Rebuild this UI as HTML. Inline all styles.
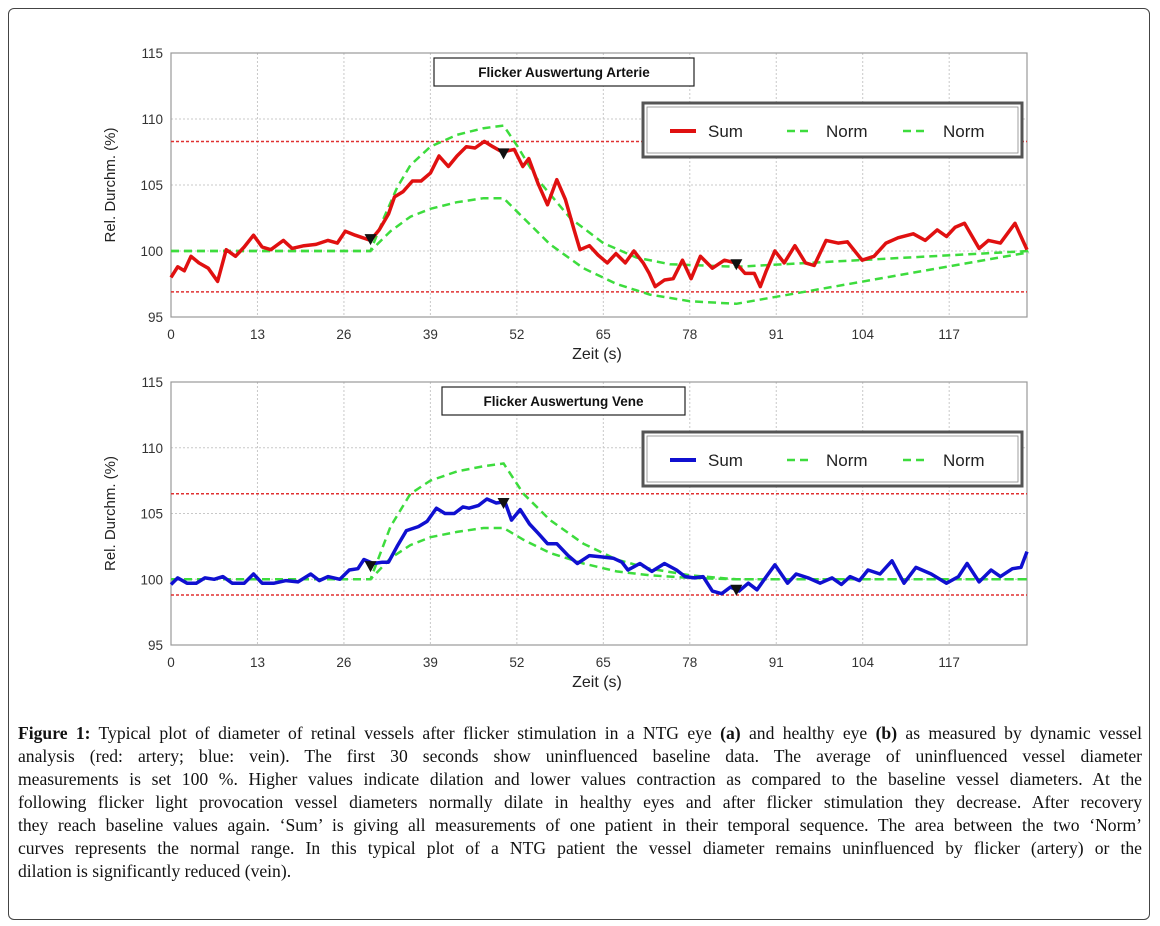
<!DOCTYPE html>
<html><head><meta charset="utf-8"><style>
html,body{margin:0;padding:0;background:#fff;}
#wrap{position:relative;width:1160px;height:926px;overflow:hidden;}
#frame{position:absolute;left:8px;top:8px;width:1142px;height:912px;border:1px solid #444;border-radius:6px;box-sizing:border-box;}
#caption{position:absolute;left:18px;top:722px;width:1124px;font-family:"Liberation Serif",serif;font-size:17.6px;line-height:23px;color:#111;}
#caption .ln{display:block;white-space:nowrap;text-align:justify;text-align-last:justify;}
#caption .ln.last{text-align-last:left;}
svg text{font-family:"Liberation Sans",sans-serif;}
</style></head><body>
<div id="wrap">
<div id="frame"></div>
<svg id="chart" width="1160" height="926" style="position:absolute;left:0;top:0"></svg>
<div id="caption">
<span class="ln"><b>Figure 1:</b> Typical plot of diameter of retinal vessels after flicker stimulation in a NTG eye <b>(a)</b> and healthy eye <b>(b)</b> as measured by dynamic vessel</span>
<span class="ln">analysis (red: artery; blue: vein). The first 30 seconds show uninfluenced baseline data. The average of uninfluenced vessel diameter</span>
<span class="ln">measurements is set 100 %. Higher values indicate dilation and lower values contraction as compared to the baseline vessel diameters. At the</span>
<span class="ln">following flicker light provocation vessel diameters normally dilate in healthy eyes and after flicker stimulation they decrease. After recovery</span>
<span class="ln">they reach baseline values again. ‘Sum’ is giving all measurements of one patient in their temporal sequence. The area between the two ‘Norm’</span>
<span class="ln">curves represents the normal range. In this typical plot of a NTG patient the vessel diameter remains uninfluenced by flicker (artery) or the</span>
<span class="ln last">dilation is significantly reduced (vein).</span>
</div>
</div>
<script>
const xTicks=[0,13,26,39,52,65,78,91,104,117];
const yTicks=[95,100,105,110,115];
const artT=[0,1,2,3,4.2,5.6,7,8.3,9.7,11,12.4,13.7,15,16.9,18.2,20,21.8,23.6,25,26.2,27.7,30,31.3,32.7,33.6,34.9,36.3,37.6,39,40.3,41.7,43,44.4,45.7,47.1,48.4,49.8,51.6,52.9,53.8,55.2,56.6,58,59.3,60.6,61.5,62.9,64.2,65.6,66.9,68.3,69.6,71,71.9,72.8,74.2,75.5,76.9,78.2,79.6,81.4,83.2,84.9,86.3,87.7,88.6,89.5,90.8,92.2,93.8,95.4,96.7,98.5,100.3,101.7,103.9,105.7,107.5,109.3,111.6,113.4,115.2,116.6,117.9,119.3,121.5,122.9,124.7,126.9,128.7];
const artSum=[98.0,98.8,98.5,99.6,99.1,98.7,97.7,100.1,99.6,100.3,101.2,100.3,100.1,100.8,100.2,100.4,100.5,100.8,100.6,101.5,101.2,100.8,101.6,102.8,104.1,104.5,105.3,105.3,105.9,107.2,106.4,107.2,107.9,107.8,108.3,107.9,107.5,107.7,106.4,107.0,105.1,103.5,105.4,103.9,101.6,100.1,100.4,99.7,99.1,99.8,99.1,100.0,99.1,98.3,97.3,97.8,97.9,99.3,97.9,99.6,98.7,99.3,99.1,98.3,98.3,97.3,98.5,100.0,99.1,100.4,99.1,98.9,100.8,100.6,100.7,99.3,99.6,100.6,101.0,101.3,100.8,101.6,101.1,101.8,102.1,100.2,100.8,100.6,102.1,100.1];
const artNormT=[0,30,32,34,36,39,43,47,50,52,55,60,65,70,75,85,129];
const artNormHi=[100,100,102.5,104.8,106.5,107.9,108.8,109.3,109.5,108,105.5,102.5,100.6,99.5,99,98.8,100];
const artNormLoT=[0,30,33,36,39,43,47,50,53,57,62,67,72,78,85,129];
const artNormLo=[100,100,101.5,102.6,103.2,103.7,104,104,102.5,100.5,98.7,97.5,96.7,96.2,96.0,99.9];
const artLimits=[108.3,96.9];
const artMarkT=[30,50,85];
const artMarkV=[100.9,107.4,99.0];

const venT=[0,1,2.4,3.8,5.1,6.5,7.8,9.2,11,12.4,13.7,15.5,17.3,19.1,21,22.3,23.6,25.4,26.8,28.1,29,30.4,31.8,32.7,34,35.4,37.2,38.5,39.9,41.2,42.6,43.9,44.8,46.2,47.5,48.9,50.2,51.2,52.5,53.9,55.2,56.6,58,59.7,61.1,62.9,64.7,66.5,67.8,68.7,70.5,72.3,74.2,76,77.3,78.7,80,81.4,82.8,84.1,85.4,86.8,88.1,89.5,90.8,92.7,94,95.8,97.6,99.4,100.8,102.1,103.5,104.8,106.6,108.4,110.2,112,114.3,116.6,118.4,119.7,121.5,123.3,124.7,126.5,127.8,128.7];
const venSum=[99.6,100.1,99.7,99.7,100.1,100.0,100.2,99.7,99.7,100.4,99.7,99.7,99.9,99.8,100.4,99.9,100.2,100.0,100.7,100.8,101.5,101.2,101.3,101.3,102.5,103.7,104.0,104.4,105.4,105.0,105.0,105.5,105.4,105.6,106.1,105.8,105.9,104.5,105.3,104.2,103.5,102.7,102.7,101.8,101.2,101.8,101.7,101.6,101.3,100.7,101.2,100.6,101.2,100.7,100.2,100.1,100.2,99.1,98.9,99.4,99.1,99.7,99.2,100.2,101.1,99.7,100.4,100.1,99.7,100.1,99.6,100.2,99.9,100.7,100.4,101.4,99.7,100.9,100.4,99.7,100.2,101.2,99.8,100.7,100.2,100.8,100.9,102.1];
const venNormT=[0,30,33,36,39,43,47,50,53,57,62,67,72,78,85,129];
const venNormHi=[100,100,104,106.5,107.5,108.2,108.6,108.8,106.5,104.5,102.7,101.5,100.8,100.3,100,100];
const venNormLo=[100,100,101.6,102.6,103.2,103.6,103.9,103.9,103,102,101.2,100.6,100.3,100.1,100,100];
const venLimits=[106.5,98.8];
const venMarkT=[30,50,85];
const venMarkV=[101.0,105.8,99.2];

const NS='http://www.w3.org/2000/svg';
const svg=document.getElementById('chart');
function mk(tag,attrs,parent){const e=document.createElementNS(NS,tag);for(const k in attrs)e.setAttribute(k,attrs[k]);(parent||svg).appendChild(e);return e;}

function panel(o){
  const X0=171,X1=1027,XMAX=128.7;
  const sx=t=>X0+(t/XMAX)*(X1-X0);
  const sy=v=>o.yTop+(115-v)/20*(o.yBot-o.yTop);
  const g=mk('g',{});
  
  
  xTicks.forEach(t=>{const l=mk('line',{x1:sx(t),x2:sx(t),y1:o.yTop,y2:o.yBot,stroke:'#c8c8c8','stroke-dasharray':'2,2','stroke-width':1},g);
    
    const tx=mk('text',{x:sx(t),y:o.yBot+22,'text-anchor':'middle','font-size':13.5,fill:'#333'},g);tx.textContent=t;
    });
  yTicks.forEach(v=>{const l=mk('line',{x1:X0,x2:X1,y1:sy(v),y2:sy(v),stroke:'#c8c8c8','stroke-dasharray':'2,2','stroke-width':1},g);
    
    const tx=mk('text',{x:163,y:sy(v)+5,'text-anchor':'end','font-size':13.5,fill:'#333'},g);tx.textContent=v;
    });
  const fr=mk('rect',{x:X0,y:o.yTop,width:X1-X0,height:o.yBot-o.yTop,fill:'none',stroke:'#999','stroke-width':1.2},g);
  
  o.limits.forEach(v=>{const l=mk('line',{x1:X0,x2:X1,y1:sy(v),y2:sy(v),stroke:'#e03030','stroke-dasharray':'3,2','stroke-width':1.5},g);
    });
  const path=(ts,vs)=>ts.map((t,i)=>(i?'L':'M')+sx(t).toFixed(1)+','+sy(vs[i]).toFixed(1)).join(' ');
  const n1=mk('path',{d:path(o.nhT,o.nhV),fill:'none',stroke:'#3ddc3d','stroke-width':2.5,'stroke-dasharray':'8,5'},g);
  
  const n2=mk('path',{d:path(o.nlT,o.nlV),fill:'none',stroke:'#3ddc3d','stroke-width':2.5,'stroke-dasharray':'8,5'},g);
  
  const s=mk('path',{d:path(o.sT,o.sV),fill:'none',stroke:o.color,'stroke-width':3.5,'stroke-linejoin':'round'},g);
  
  o.mT.forEach((t,i)=>{const x=sx(t),y=sy(o.mV[i]);
    const m=mk('path',{d:`M${x-6},${y-5} L${x+6},${y-5} L${x},${y+6} Z`,fill:'#111'},g);
    });
  const tb=mk('rect',{x:o.tbX,y:o.yTop+5,width:o.tbW,height:28,fill:'#fff',stroke:'#222','stroke-width':1.2},g);
  
  const tt=mk('text',{x:o.tbX+o.tbW/2,y:o.yTop+24,'text-anchor':'middle','font-size':13.5,'font-weight':'bold',fill:'#111'},g);
  tt.textContent=o.title;
  const ly=o.yTop+50;
  const lb=mk('rect',{x:643,y:ly,width:379,height:54,fill:'#fff',stroke:'#555','stroke-width':3},g);
  
  mk('rect',{x:647,y:ly+4,width:371,height:46,fill:'none',stroke:'#888','stroke-width':0.8},g);
  const cy=ly+28;
  const items=[['Sum',o.color,670,708,null],['Norm','#3ddc3d',787,826,'8,5'],['Norm','#3ddc3d',903,943,'8,5']];
  items.forEach(it=>{const l=mk('line',{x1:it[2],x2:it[2]+26,y1:cy,y2:cy,stroke:it[1],'stroke-width':it[4]?2.5:4},g);
    if(it[4])l.setAttribute('stroke-dasharray',it[4]);
    
    const t=mk('text',{x:it[3],y:cy+6,'font-size':17,fill:'#222'},g);t.textContent=it[0];
    });
  const xl=mk('text',{x:597,y:o.yBot+42,'text-anchor':'middle','font-size':16,fill:'#222'},g);xl.textContent='Zeit (s)';
  
  const cyl=(o.yTop+o.yBot)/2;
  const yl=mk('text',{x:0,y:0,'text-anchor':'middle','font-size':15,fill:'#222',transform:`translate(115,${cyl}) rotate(-90)`},g);yl.textContent='Rel. Durchm. (%)';
  
}
panel({name:'artery-chart',yTop:53,yBot:317,limits:artLimits,nhT:artNormT,nhV:artNormHi,nlT:artNormLoT,nlV:artNormLo,sT:artT,sV:artSum,mT:artMarkT,mV:artMarkV,color:'#e01010',tbX:434,tbW:260,title:'Flicker Auswertung Arterie'});
panel({name:'vein-chart',yTop:382,yBot:645,limits:venLimits,nhT:venNormT,nhV:venNormHi,nlT:venNormT,nlV:venNormLo,sT:venT,sV:venSum,mT:venMarkT,mV:venMarkV,color:'#1010d0',tbX:442,tbW:243,title:'Flicker Auswertung Vene'});
</script>
</body></html>
